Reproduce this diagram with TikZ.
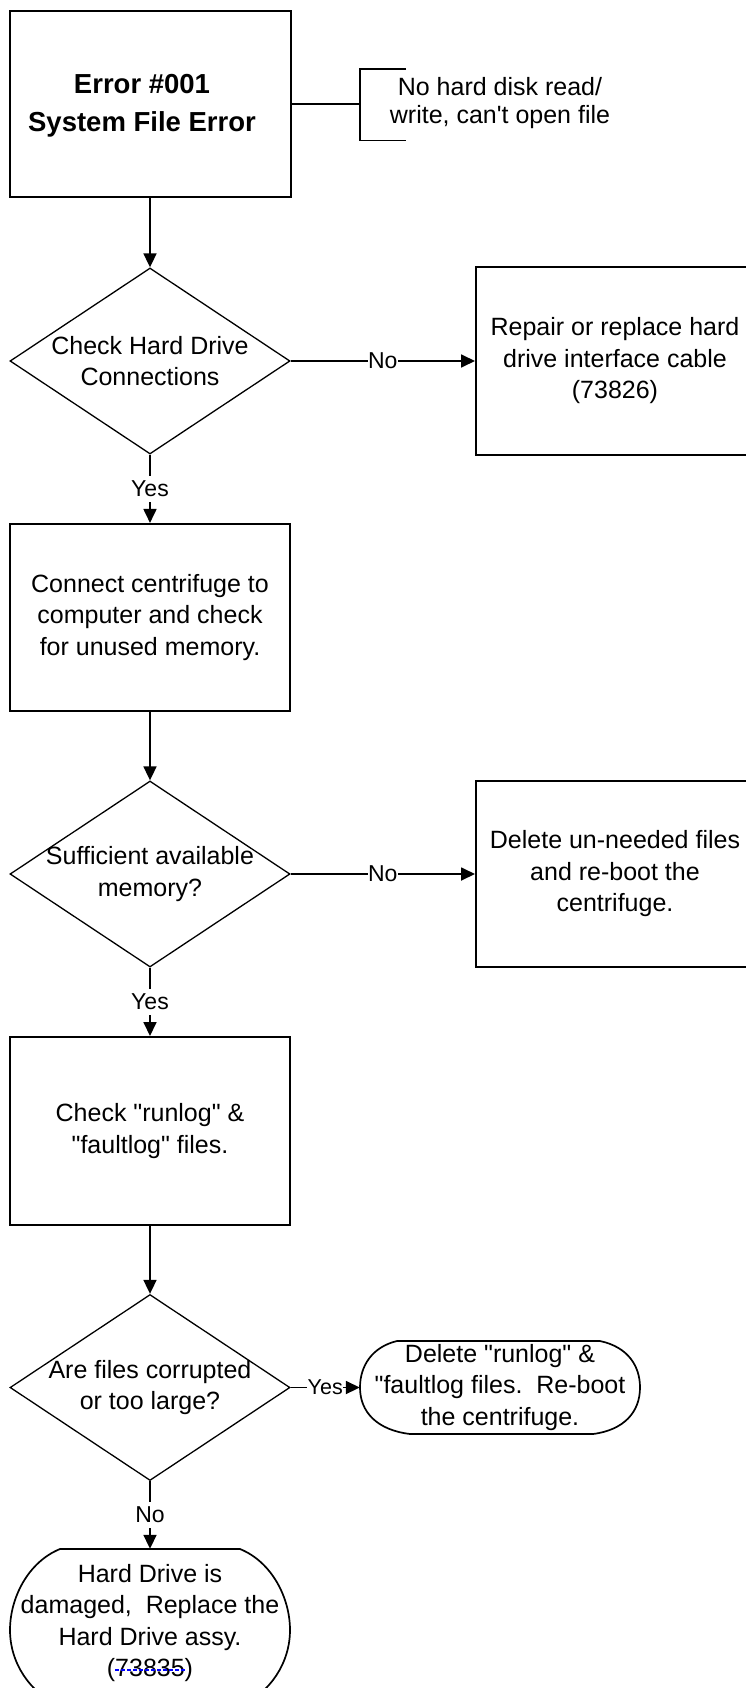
\documentclass[tikz,border=0pt]{standalone}
\usepackage{fontspec}
\setmainfont{Liberation Sans}
\usetikzlibrary{shapes.geometric,arrows.meta}
\newcommand{\bodyf}{\fontsize{25}{31.5}\selectfont}
\newcommand{\notef}{\fontsize{25}{27.5}\selectfont}
\newcommand{\titlef}{\fontsize{27.5}{37.7}\selectfont\bfseries}
\newcommand{\lblf}{\fontsize{23}{23}\selectfont}
\newcommand{\smlblf}{\fontsize{21.5}{21.5}\selectfont}
\newcommand{\dq}{\textquotedbl}
\begin{document}
\begin{tikzpicture}[x=1pt,y=-1pt,
  procbox/.style={draw,line width=2pt,rectangle,inner sep=0pt,align=center,font=\bodyf},
  decision/.style={draw,line width=1.3pt,diamond,inner sep=0pt,minimum width=280pt,minimum height=186pt},
  txt/.style={inner sep=0pt,align=center,font=\bodyf},
  conn/.style={line width=1.8pt,-{Triangle[length=14pt,width=13pt]}},
  plainconn/.style={line width=1.8pt},
  termline/.style={draw,line width=1.7pt},
  vlbl/.style={fill=white,inner xsep=1pt,inner ysep=5pt,font=\lblf},
  hlbl/.style={fill=white,inner xsep=0.5pt,inner ysep=2pt,font=\lblf},
]
\fill[white] (0,0) rectangle (746,1688);
\useasboundingbox (0,0) rectangle (746,1688);

% title box and note
\node[procbox,minimum width=281pt,minimum height=186pt] (e1) at (150,103.7) {};
\node[inner sep=0pt,align=center,font=\titlef] (e1t) at (142,106) {Error \#001\\System File Error};
\coordinate (brk) at (360,103.7);
\draw[plainconn] (e1) -- (brk);
\draw[line width=1.5pt] (406,69) -- (360,69) -- (360,140.7) -- (406,140.7);
\node[inner sep=0pt,align=center,font=\notef] (note) at (500,103) {No hard disk read/\\write, can\textquotesingle t open file};

% decision 1
\node[decision] (d1) at (150,361) {};
\node[txt] (d1t) at (150,361) {Check Hard Drive\\Connections};
\node[procbox,minimum width=278pt,minimum height=188pt] (b2) at (615,361) {Repair or replace hard\\drive interface cable\\(73826)};
\node[procbox,minimum width=280pt,minimum height=186.7pt] (b3) at (150,617.3) {Connect centrifuge to\\computer and check\\for unused memory.};

% decision 2
\node[decision] (d2) at (150,874) {};
\node[txt] (d2t) at (150,874) {Sufficient available\\memory?};
\node[procbox,minimum width=278pt,minimum height=186pt] (b4) at (615,874) {Delete un-needed files\\and re-boot the\\centrifuge.};
\node[procbox,minimum width=280pt,minimum height=188pt] (b5) at (150,1131) {Check \dq runlog\dq{} \&\\\dq faultlog\dq{} files.};

% decision 3
\node[decision] (d3) at (150,1387.5) {};
\node[txt] (d3t) at (150,1387.5) {Are files corrupted\\or too large?};
\node[txt,minimum width=280pt,minimum height=94pt] (t1) at (500,1387.5) {Delete \dq runlog\dq{} \&\\\dq faultlog files.\ \ Re-boot\\the centrifuge.};
\node[inner sep=0pt,minimum width=280pt,minimum height=157pt] (t2) at (150,1627.5) {};
\node[txt] (t2t) at (150,1623) {Hard Drive is\\damaged,\ \ Replace the\\Hard Drive assy.\\(73835)};

% terminator outlines
\draw[termline] (397,1341) -- (600,1341) .. controls (628,1347) and (640,1366) .. (640,1387.5)
  .. controls (640,1412) and (624,1430) .. (593,1434) -- (410,1434)
  .. controls (377,1430) and (360,1412) .. (360,1387.5)
  .. controls (360,1366) and (372,1347) .. (397,1341) -- cycle;
\draw[termline] (60,1549) -- (240,1549) .. controls (272,1562) and (290,1598) .. (290,1630)
  .. controls (290,1663) and (270,1693) .. (240,1706) -- (60,1706)
  .. controls (30,1693) and (10,1663) .. (10,1630)
  .. controls (10,1598) and (28,1562) .. (60,1549) -- cycle;
\draw[blue,line width=1.1pt,dash pattern=on 4pt off 2pt] (115,1670) -- (185,1670);

% connectors
\draw[conn] (e1) -- (d1);
\draw[conn] (d1) -- node[hlbl]{No} (b2);
\draw[conn] (d1) -- node[vlbl]{Yes} (b3);
\draw[conn] (b3) -- (d2);
\draw[conn] (d2) -- node[hlbl]{No} (b4);
\draw[conn] (d2) -- node[vlbl]{Yes} (b5);
\draw[conn] (b5) -- (d3);
\draw[conn] (d3) -- node[hlbl,font=\smlblf]{Yes} (t1);
\draw[conn] (d3) -- node[vlbl]{No} (t2);
\end{tikzpicture}
\end{document}
